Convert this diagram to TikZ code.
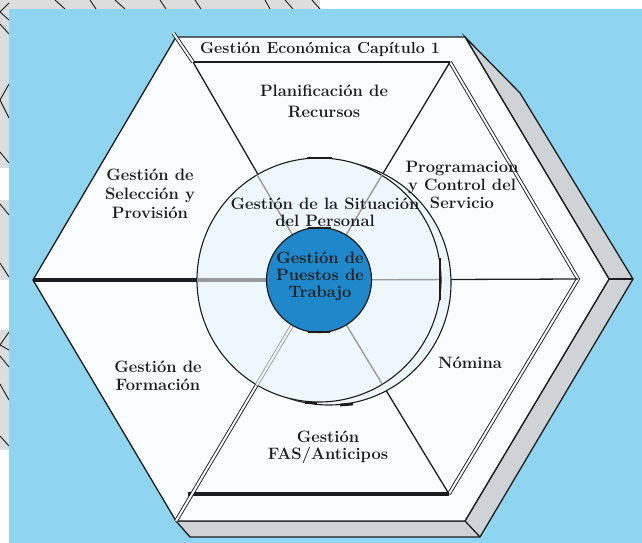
\documentclass[tikz,border=0pt]{standalone}
\usetikzlibrary{calc}
\definecolor{bg}{HTML}{8FD5F2}
\definecolor{face}{HTML}{FAFDFE}
\definecolor{shade}{HTML}{D0D3D6}
\definecolor{disc}{HTML}{EEF8FC}
\definecolor{core}{HTML}{1F88CB}
\definecolor{strip}{HTML}{DDDDDD}
\definecolor{ink}{HTML}{1C1C1C}
\definecolor{spk}{HTML}{9A9A9A}
\begin{document}
\begin{tikzpicture}[x=1pt,y=-1pt,
  lbl/.style={font=\fontsize{16.5}{19}\selectfont\bfseries, text=ink, align=center, inner sep=0pt},
  edge/.style={draw=ink, line width=1.3pt},
  dbl/.style={draw=ink, double=face, double distance=2pt, line width=0.9pt},
  tick/.style={draw=ink, line width=2.8pt}]
\useasboundingbox (0,0) rectangle (642,543);
\fill[white] (0,0) rectangle (642,543);
% patterned strips
\fill[strip] (0,0) rectangle (320,9);
\fill[strip] (0,0) rectangle (9,168);
\fill[strip] (0,200) rectangle (9,280);
\fill[strip] (0,330) rectangle (9,450);
\foreach \a/\b in {55/65,90/96,115/125,160/166,195/201,265/270,285/293,312/320}
  \draw[ink, line width=0.9pt] (\a,0) -- (\b,9);
\foreach \a/\b in {24/34,152/163,204/215,263/277,356/367,384/400,436/446}
  \draw[ink, line width=0.9pt] (0,\a) -- (9,\b);
\draw[ink, line width=0.9pt] (9,3) -- (0,12) -- (9,20);
\draw[ink, line width=0.9pt] (9,84) -- (0,100) -- (9,118);
\draw[ink, line width=0.9pt] (9,332) -- (0,345) -- (9,350);
\fill[bg] (9,9) rectangle (642,543);
% geometry
\coordinate (C) at (319,280);
\coordinate (oTL) at (176,37);
\coordinate (oTR) at (465,37);
\coordinate (oR) at (609,279);
\coordinate (oBR) at (465,521);
\coordinate (oBL) at (176,521);
\coordinate (oL) at (33,280);
\coordinate (sT) at (520,93);
\coordinate (sR) at (633,279);
\coordinate (sBR) at (480,537);
\coordinate (sBL) at (190,537);
\coordinate (iTL) at (193,62);
\coordinate (iTR) at (450,62);
\coordinate (iR) at (578,279);
\coordinate (iBR) at (449,494);
\coordinate (iBL) at (188,494);
% shadow
\filldraw[fill=shade, edge] (oTR) -- (sT) -- (sR) -- (sBR) -- (sBL) -- (oBL) -- (oBR) -- (oR) -- cycle;
\draw[edge] (oR) -- (sR);
\draw[edge] (oBR) -- (sBR);
% face
\filldraw[fill=face, edge] (oTL) -- (oTR) -- (oR) -- (oBR) -- (oBL) -- (oL) -- cycle;
\draw[edge] (iTL) -- (iTR);
\draw[dbl] (iTR) -- (iR) -- (iBR);
\draw[ink, line width=3.8pt] (iBL) -- (iBR);
% black spokes
\draw[edge] (C) -- (iTL);
\draw[dbl] (iTL) -- ($(iTL)!1.15!(oTL)$);
\draw[edge] (C) -- (iTR);
\draw[edge] (C) -- (iR);
\draw[edge] (C) -- (iBR);
\draw[dbl] (C) -- (oBL);
\draw[ink, line width=4.2pt] (C) -- (oL);
% discs
\node[circle, draw=ink, line width=1.1pt, fill=disc, minimum size=244pt, inner sep=0pt] (halo) at ($(C)+(10,3)$) {};
\node[circle, draw=ink, line width=1.1pt, fill=disc, minimum size=244pt, inner sep=0pt] (disk) at (C) {};
% grey spokes
\draw[spk, line width=1.4pt] (C) -- ($(C)!122pt!(oTL)$);
\draw[spk, line width=1.4pt] (C) -- ($(C)!122pt!(iTR)$);
\draw[spk, line width=1.4pt] (C) -- ($(C)!122pt!(iR)$);
\draw[spk, line width=1.4pt] (C) -- ($(C)!122pt!(iBR)$);
\draw[draw=spk, double=disc, double distance=2pt, line width=0.9pt] (C) -- ($(C)!122pt!(oBL)$);
\draw[spk, line width=4.2pt] (C) -- ($(C)!122pt!(oL)$);
% core
\node[circle, draw=ink, line width=1.2pt, fill=core, minimum size=105pt, inner sep=0pt] (core) at (C) {};
% ticks
\draw[tick] ($(C)+(-12,-122)$) -- ($(C)+(13,-122)$);
\draw[tick] ($(C)+(-14,123)$) -- ($(C)+(-2,123)$);
\draw[tick] ($(C)+(21,125)$) -- ($(C)+(34,124)$);
\draw[tick] ($(C)+(121,-22)$) -- ($(C)+(121,20)$);
\draw[tick] ($(C)+(-11,-52)$) -- ($(C)+(12,-52)$);
\draw[tick] ($(C)+(-11,52)$) -- ($(C)+(11,52)$);
% labels
\node[lbl, font=\fontsize{16}{19}\selectfont\bfseries] (eco) at (320,49) {Gestión Económica Capítulo 1};
\node[lbl, font=\fontsize{16.5}{21}\selectfont\bfseries] (plan) at (324,101) {Planificación de\\Recursos};
\node[lbl] (sel) at (150,194) {Gestión de\\Selección y\\Provisión};
\node[lbl, font=\fontsize{16.5}{18}\selectfont\bfseries] (prog) at (462,185) {Programacion\\y Control del\\Servicio};
\node[lbl, font=\fontsize{16.5}{17}\selectfont\bfseries] (sit) at (325,212) {Gestión de la Situación\\del Personal};
\node[lbl, font=\fontsize{16.5}{17}\selectfont\bfseries] (pues) at (320,276) {Gestión de\\Puestos de\\Trabajo};
\node[lbl, font=\fontsize{16.5}{18}\selectfont\bfseries] (form) at (158,376) {Gestión de\\Formación};
\node[lbl] (nom) at (470,363) {Nómina};
\node[lbl, font=\fontsize{16.5}{17}\selectfont\bfseries] (fas) at (328,447) {Gestión\\FAS/Anticipos};
\end{tikzpicture}
\end{document}
